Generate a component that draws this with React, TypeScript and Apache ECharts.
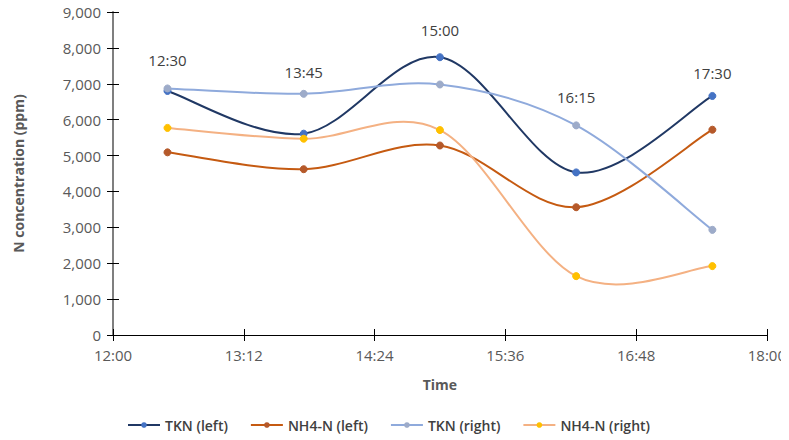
import React, { useEffect, useRef } from "react";
import * as echarts from "echarts";

const times = ["12:30", "13:45", "15:00", "16:15", "17:30"];
const tknLeft = [6800, 5610, 7740, 4530, 6660];
const nh4Left = [5090, 4620, 5280, 3560, 5720];
const tknRight = [6870, 6720, 6980, 5840, 2930];
const nh4Right = [5770, 5470, 5710, 1640, 1920];
const labelLevels = [7660, 7330, 8500, 6630, 7300];

const seriesNames = ["TKN (left)", "NH4-N (left)", "TKN (right)", "NH4-N (right)"];
const lineColors = ["#203864", "#C55A11", "#8FAADC", "#F4B183"];
const markerColors = ["#4472C4", "#B5592A", "#9DABC9", "#FFC000"];
const seriesValues = [tknLeft, nh4Left, tknRight, nh4Right];

const toMin = (t: string) => {
  const [h, m] = t.split(":").map(Number);
  return h * 60 + m;
};
const fmt = (v: number) => {
  const h = Math.floor(v / 60);
  const m = Math.round(v % 60);
  return `${h}:${m < 10 ? "0" + m : m}`;
};

const pair = (vals: number[]) => times.map((t, i) => [toMin(t), vals[i]]);

const FONT = "'Open Sans', 'Liberation Sans', sans-serif";
const AX = "#595959";

export default function App() {
  const ref = useRef<HTMLDivElement>(null);
  useEffect(() => {
    if (!ref.current) return;
    const chart = echarts.init(ref.current, undefined, { renderer: "svg" });

    const curve = (idx: number) => {
      const vals = seriesValues[idx];
      const n = vals.length;
      return {
        name: seriesNames[idx] + " curve",
        type: "custom",
        data: pair(vals),
        z: 2,
        silent: true,
        clip: false,
        renderItem: (params: any, api: any) => {
          const i = params.dataIndex;
          if (i >= n - 1) return null;
          const P = vals.map((v, j) => api.coord([toMin(times[j]), v]));
          const p0 = P[Math.max(i - 1, 0)];
          const p1 = P[i];
          const p2 = P[i + 1];
          const p3 = P[Math.min(i + 2, n - 1)];
          return {
            type: "bezierCurve",
            shape: {
              x1: p1[0],
              y1: p1[1],
              x2: p2[0],
              y2: p2[1],
              cpx1: p1[0] + (p2[0] - p0[0]) / 6,
              cpy1: p1[1] + (p2[1] - p0[1]) / 6,
              cpx2: p2[0] - (p3[0] - p1[0]) / 6,
              cpy2: p2[1] - (p3[1] - p1[1]) / 6,
            },
            style: { stroke: lineColors[idx], lineWidth: 2, fill: null },
          };
        },
      };
    };

    const markers = (idx: number) => ({
      name: seriesNames[idx],
      type: "line",
      data: pair(seriesValues[idx]),
      z: 3,
      symbol: "circle",
      symbolSize: 7,
      lineStyle: { width: 0, color: lineColors[idx] },
      itemStyle: { color: markerColors[idx], borderColor: markerColors[idx] },
      color: lineColors[idx],
    });

    const baseX = { type: "value", min: 720, max: 1080, interval: 72 };
    const baseY = { type: "value", min: 0, max: 9000, interval: 1000 };

    chart.setOption({
      animation: false,
      backgroundColor: "#ffffff",
      textStyle: { fontFamily: FONT },
      grid: { left: 113, right: 22, top: 12, bottom: 105, containLabel: false },
      legend: {
        bottom: 3,
        left: 122,
        itemWidth: 32,
        itemHeight: 7,
        itemGap: 22,
        textStyle: { color: "#404040", fontSize: 14, fontWeight: 600, fontFamily: FONT },
        data: seriesNames.map((name, i) => ({
          name,
          lineStyle: { color: lineColors[i], width: 2, opacity: 1 },
          itemStyle: { color: markerColors[i] },
        })),
      },
      xAxis: [
        {
          ...baseX,
          name: "Time",
          nameLocation: "middle",
          nameGap: 42,
          nameTextStyle: { color: AX, fontWeight: "bold", fontSize: 14, fontFamily: FONT },
          axisLine: { lineStyle: { color: "#000000", width: 1 } },
          axisTick: { show: true, length: 6, lineStyle: { color: "#000000" } },
          splitLine: { show: false },
          axisLabel: { color: AX, fontSize: 15, margin: 12, formatter: (v: number) => fmt(v) },
        },
        {
          ...baseX,
          position: "bottom",
          offset: 0,
          axisLine: { show: false },
          axisTick: { show: true, inside: true, length: 6, lineStyle: { color: "#000000" } },
          axisLabel: { show: false },
          splitLine: { show: false },
        },
      ],
      yAxis: [
        {
          ...baseY,
          name: "N concentration (ppm)",
          nameLocation: "middle",
          nameGap: 88,
          nameTextStyle: { color: AX, fontWeight: "bold", fontSize: 14, fontFamily: FONT },
          axisLine: { show: true, lineStyle: { color: "#7f7f7f", width: 2 } },
          axisTick: { show: true, length: 6, lineStyle: { color: "#000000" } },
          splitLine: { show: false },
          axisLabel: {
            color: AX,
            fontSize: 15,
            margin: 12,
            formatter: (v: number) => v.toLocaleString("en-US"),
          },
        },
        {
          ...baseY,
          position: "left",
          offset: 0,
          axisLine: { show: false },
          axisTick: { show: true, inside: true, length: 6, lineStyle: { color: "#000000" } },
          axisLabel: { show: false },
          splitLine: { show: false },
        },
      ],
      series: [
        curve(0),
        markers(0),
        curve(1),
        markers(1),
        curve(2),
        markers(2),
        curve(3),
        markers(3),
        {
          name: "labels",
          type: "scatter",
          data: pair(labelLevels).map((p, i) => ({ value: p, name: times[i] })),
          symbolSize: 0,
          silent: true,
          itemStyle: { opacity: 0 },
          label: {
            show: true,
            position: "inside",
            formatter: (p: any) => p.name,
            color: "#404040",
            fontSize: 15,
            fontFamily: FONT,
            opacity: 1,
          },
        },
      ],
    });
    return () => chart.dispose();
  }, []);
  return <div ref={ref} style={{ width: 789, height: 440, marginLeft: -8, marginTop: -8 }} />;
}
